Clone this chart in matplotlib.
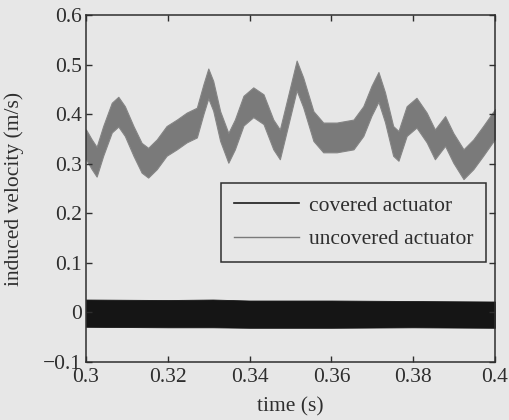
import matplotlib
matplotlib.use("Agg")
import matplotlib.pyplot as plt
from matplotlib.lines import Line2D
import numpy as np

# time samples (s) for the envelope of the noisy uncovered-actuator trace
t_unc = [0.3000, 0.3014, 0.3026, 0.3042, 0.3063, 0.3079, 0.3095, 0.3116, 0.3136, 0.3152,
         0.3173, 0.3197, 0.3222, 0.3246, 0.3271, 0.3287, 0.3299, 0.3311, 0.3328, 0.3348,
         0.3364, 0.3385, 0.3409, 0.3434, 0.3458, 0.3474, 0.3495, 0.3515, 0.3531, 0.3556,
         0.3580, 0.3613, 0.3654, 0.3678, 0.3698, 0.3715, 0.3731, 0.3751, 0.3764, 0.3784,
         0.3808, 0.3833, 0.3853, 0.3878, 0.3898, 0.3923, 0.3947, 0.3971, 0.4000]
# centre of the uncovered-actuator band (m/s)
c_unc = [0.339, 0.319, 0.304, 0.346, 0.393, 0.405, 0.386, 0.346, 0.312, 0.302,
         0.319, 0.346, 0.359, 0.373, 0.383, 0.430, 0.462, 0.437, 0.376, 0.332,
         0.359, 0.407, 0.424, 0.410, 0.359, 0.339, 0.410, 0.478, 0.444, 0.376,
         0.353, 0.353, 0.359, 0.386, 0.427, 0.455, 0.414, 0.346, 0.336, 0.386,
         0.403, 0.373, 0.339, 0.366, 0.332, 0.299, 0.319, 0.346, 0.380]
hw_unc = 0.03  # half-width of the noise band (m/s)

# covered actuator: noise band around zero
t_cov = [0.300, 0.320, 0.331, 0.340, 0.360, 0.380, 0.400]
up_cov = [0.026, 0.025, 0.026, 0.024, 0.024, 0.023, 0.022]
lo_cov = [-0.029, -0.030, -0.030, -0.031, -0.031, -0.030, -0.031]

xticks = [0.3, 0.32, 0.34, 0.36, 0.38, 0.4]
xticklabels = ["0.3", "0.32", "0.34", "0.36", "0.38", "0.4"]
yticks = [-0.1, 0, 0.1, 0.2, 0.3, 0.4, 0.5, 0.6]
yticklabels = ["\u22120.1", "0", "0.1", "0.2", "0.3", "0.4", "0.5", "0.6"]

bg = "#e7e7e7"
ink = "#2e2e2e"
plt.rcParams["font.family"] = ["Liberation Serif", "DejaVu Serif"]
plt.rcParams["font.size"] = 15.5

fig = plt.figure(figsize=(5.09, 4.20), dpi=100, facecolor=bg)
ax = fig.add_axes([86/509, 1-362/420, (495-86)/509, (362-15)/420], facecolor=bg)

c = np.array(c_unc)
ax.fill_between(t_unc, c - hw_unc, c + hw_unc, color="#7a7a7a", lw=0.8, edgecolor="#858585")
ax.fill_between(t_cov, lo_cov, up_cov, color="#151515", lw=0.6, edgecolor="#151515")

ax.set_xlim(0.3, 0.4)
ax.set_ylim(-0.1, 0.6)
ax.set_xticks(xticks)
ax.set_xticklabels(xticklabels)
ax.set_yticks(yticks)
ax.set_yticklabels(yticklabels)
ax.tick_params(direction="in", top=True, right=True, length=4, width=1, colors=ink,
               labelcolor=ink)
ax.tick_params(axis="x", pad=4)
ax.tick_params(axis="y", pad=3)
for s in ax.spines.values():
    s.set_color(ink)
    s.set_linewidth(1.1)
ax.set_xlabel("time (s)", color=ink, labelpad=8)
ax.set_ylabel("induced velocity (m/s)", color=ink, labelpad=14)

handles = [Line2D([], [], color="#1a1a1a", lw=1.2),
           Line2D([], [], color="#7a7a7a", lw=1.0)]
leg = ax.legend(handles, ["covered actuator", "uncovered actuator"],
                loc="upper right", bbox_to_anchor=(0.978, 0.516), frameon=True,
                fancybox=False, edgecolor=ink, facecolor=bg, framealpha=1,
                handlelength=3.0, handletextpad=0.45, borderpad=0.6, labelspacing=0.62,
                borderaxespad=0)
leg.get_frame().set_linewidth(1.1)
for tx in leg.get_texts():
    tx.set_color(ink)

fig.savefig("out.png", dpi=100, facecolor=bg)
